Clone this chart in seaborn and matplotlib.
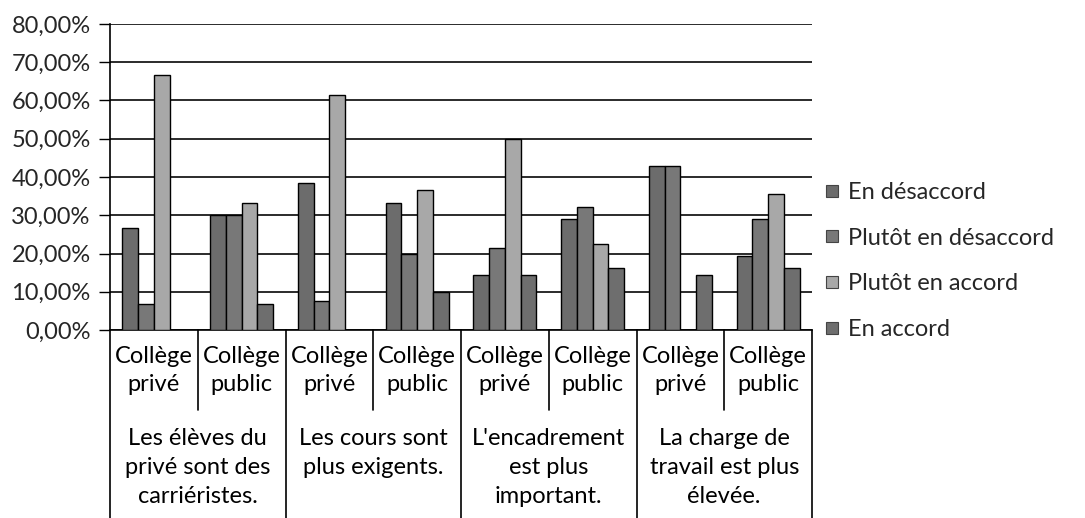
import matplotlib
matplotlib.use("Agg")
import matplotlib.pyplot as plt
import seaborn as sns
import pandas as pd
from matplotlib.lines import Line2D
from matplotlib.ticker import FuncFormatter, MultipleLocator

sub_labels = ["Collège\nprivé", "Collège\npublic"] * 4
group_labels = [
    "Les élèves du\nprivé sont des\ncarriéristes.",
    "Les cours sont\nplus exigents.\n",
    "L'encadrement\nest plus\nimportant.",
    "La charge de\ntravail est plus\nélevée.",
]
series = ["En désaccord", "Plutôt en désaccord", "Plutôt en accord", "En accord"]
en_desaccord = [26.67, 30.00, 38.46, 33.33, 14.29, 29.03, 42.86, 19.35]
plutot_desaccord = [6.67, 30.00, 7.69, 20.00, 21.43, 32.26, 42.86, 29.03]
plutot_accord = [66.67, 33.33, 61.54, 36.67, 50.00, 22.58, 0.00, 35.48]
en_accord = [0.00, 6.67, 0.00, 10.00, 14.29, 16.13, 14.29, 16.13]
colors = ["#6c6c6c", "#787878", "#a8a8a8", "#6e6e6e"]

values = [en_desaccord, plutot_desaccord, plutot_accord, en_accord]
rows = []
for s, vals in zip(series, values):
    for i, v in enumerate(vals):
        rows.append({"pos": i, "serie": s, "value": v / 100})
df = pd.DataFrame(rows)

sns.set_theme(style="white")
plt.rcParams["font.family"] = ["Lato", "DejaVu Sans"]
FS = 17

fig = plt.figure(figsize=(10.85, 5.18), dpi=100)
ax = fig.add_axes([110 / 1085, 1 - 330 / 518, 702 / 1085, 306 / 518])

sns.barplot(data=df, x="pos", y="value", hue="serie", order=list(range(8)),
            hue_order=series, palette=colors, width=0.72, edgecolor="black",
            linewidth=1, ax=ax, legend=False, zorder=3, saturation=1)

ax.set_xlim(-0.5, 7.5)
ax.set_ylim(0, 0.8)
ax.yaxis.set_major_locator(MultipleLocator(0.1))
ax.yaxis.set_major_formatter(FuncFormatter(lambda v, p: f"{v*100:.2f}%".replace(".", ",")))
ax.grid(axis="y", color="#1a1a1a", linewidth=1.3, zorder=0)
ax.set_axisbelow(True)
ax.tick_params(axis="y", which="major", direction="out", length=8, width=1,
               color="black", labelsize=FS, pad=6, left=True)
ax.tick_params(axis="x", bottom=False, labelbottom=False)
for side in ["top", "right"]:
    ax.spines[side].set_visible(False)
ax.spines["left"].set_color("black")
ax.spines["bottom"].set_color("black")
ax.spines["left"].set_linewidth(1.2)
ax.spines["bottom"].set_linewidth(1.2)
ax.set_xlabel("")
ax.set_ylabel("")

tr = ax.get_xaxis_transform()
short_bottom = -0.262
long_bottom = -0.62
for i in range(9):
    x = i - 0.5
    bottom = long_bottom if i % 2 == 0 else short_bottom
    ax.plot([x, x], [0, bottom], transform=tr, color="black", linewidth=1.2,
            clip_on=False)
for i, lab in enumerate(sub_labels):
    ax.text(i, -0.133, lab, transform=tr, ha="center", va="center",
            fontsize=FS, linespacing=1.42, color="black")
for g, lab in enumerate(group_labels):
    ax.text(2 * g + 0.5, -0.45, lab, transform=tr, ha="center", va="center",
            fontsize=FS, linespacing=1.48, color="black")

handles = [Line2D([0], [0], marker="s", linestyle="none", markersize=8,
                  markerfacecolor=c, markeredgecolor="#444444", markeredgewidth=0.8)
           for c in colors]
fig.legend(handles, series, loc="center left", bbox_to_anchor=(814 / 1085, 1 - 261 / 518),
           frameon=False, fontsize=FS, handlelength=0.7, handletextpad=0.35,
           labelspacing=1.05, borderaxespad=0)

fig.savefig("out.png", dpi=100)
